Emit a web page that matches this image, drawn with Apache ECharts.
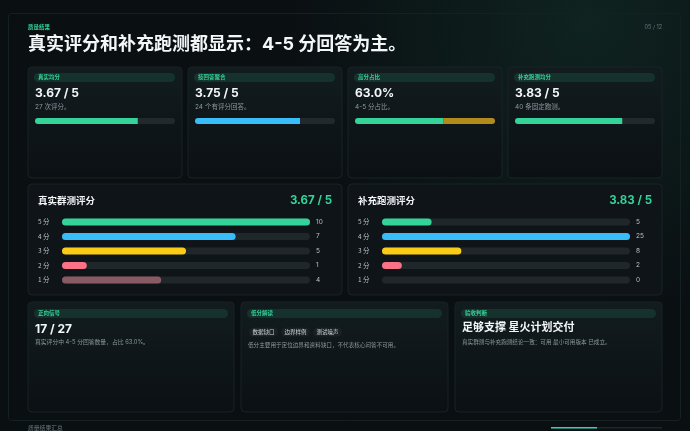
<!DOCTYPE html>
<html>
<head>
<meta charset="utf-8">
<script src="https://cdn.jsdelivr.net/npm/echarts/dist/echarts.min.js"></script>
<style>
  html, body { margin: 0; padding: 0; background: #0a0f12; }
  #chart { width: 690px; height: 431px; }
</style>
</head>
<body>
<div id="chart"></div>
<script>
// data
var kpiTags = ["真实均分", "按回答聚合", "高分占比", "补充跑测均分"];
var kpiTexts = ["3.67 / 5", "3.75 / 5", "63.0%", "3.83 / 5"];
var kpiNotes = ["27 次评分。", "24 个有评分回答。", "4-5 分占比。", "40 条固定跑测。"];
var kpiValues = [3.67, 3.75, 63.0, 3.83];
var kpiMax = [5, 5, 100, 5];
var kpiColors = ["#34d399", "#38bdf8", "#34d399", "#34d399"];

var scoreLabels = ["5 分", "4 分", "3 分", "2 分", "1 分"];
var scoreColors = ["#34d399", "#38bdf8", "#facc15", "#fb7185", "#8a5a62"];
var realCounts = [10, 7, 5, 1, 4];
var runCounts = [5, 25, 8, 2, 0];
var realAvg = "3.67 / 5";
var runAvg = "3.83 / 5";

var lowTags = ["数据缺口", "边界样例", "测试噪声"];

var FONT = "Inter, 'Noto Sans CJK SC', sans-serif";
var CJK = "'Noto Sans CJK SC', Inter, sans-serif";

function txt(s, x, y, size, color, weight, align) {
  return {
    type: "text", z: 100,
    style: {
      text: s, x: x, y: y, fill: color,
      font: (weight || "normal") + " " + size + "px " + FONT,
      align: align || "left", verticalAlign: "middle"
    }
  };
}

function card(x, y, w, h, flat) {
  return {
    type: "rect", z: 0,
    shape: { x: x, y: y, width: w, height: h, r: 4 },
    style: {
      fill: flat ? "#0e1418" : {
        type: "linear", x: 0, y: 0, x2: 0, y2: 1,
        colorStops: [{ offset: 0, color: "#121c1e" }, { offset: 1, color: "#0b1013" }]
      },
      stroke: "#192326", lineWidth: 1
    }
  };
}

function pill(x, y, w, h, color) {
  return {
    type: "rect", z: 1,
    shape: { x: x, y: y, width: w, height: h, r: h / 2 },
    style: { fill: color }
  };
}

var graphics = [];
// page background + frame
graphics.push({
  type: "rect", z: -10,
  shape: { x: 0, y: 0, width: 690, height: 431 },
  style: {
    fill: {
      type: "radial", x: 0.85, y: 0.05, r: 0.7,
      colorStops: [{ offset: 0, color: "#0f2320" }, { offset: 1, color: "#0a0f12" }]
    }
  }
});
graphics.push({
  type: "rect", z: -5,
  shape: { x: 8.5, y: 13.5, width: 672, height: 407, r: 3 },
  style: { fill: "rgba(0,0,0,0)", stroke: "#152023", lineWidth: 1 }
});

graphics.push(txt("质量结果", 28, 27, 5.5, "#34d399", "bold"));
graphics.push(txt("05 / 12", 662, 27, 5.5, "#6b757c", "normal", "right"));
graphics.push(txt("真实评分和补充跑测都显示：4-5 分回答为主。", 28, 45, 18, "#f4f7f8", "bold"));

// kpi cards
var kpiX = [28, 188, 348, 508];
for (let i = 0; i < 4; i++) {
  let x = kpiX[i];
  graphics.push(card(x, 67, 154, 111));
  graphics.push(pill(x + 6, 73, 141, 9, "rgba(52,211,153,0.13)"));
  graphics.push(txt(kpiTags[i], x + 10, 77.5, 5.5, "#34d399", "bold"));
  graphics.push(txt(kpiTexts[i], x + 7, 93, 12, "#f4f7f8", "bold"));
  graphics.push(txt(kpiNotes[i], x + 7, 107.5, 6.5, "#8d979e"));
}

// distribution panels
var panelX = [28, 348];
var panelTitles = ["真实群测评分", "补充跑测评分"];
var panelAvg = [realAvg, runAvg];
for (let i = 0; i < 2; i++) {
  let x = panelX[i];
  graphics.push(card(x, 184, 314, 111, true));
  graphics.push(txt(panelTitles[i], x + 10, 201, 9.5, "#f4f7f8", "bold"));
  graphics.push(txt(panelAvg[i], x + 304, 201, 11.5, "#34d399", "bold", "right"));
}

// bottom cards
graphics.push(card(28, 302, 206, 110));
graphics.push(pill(34, 309, 194, 9, "rgba(52,211,153,0.13)"));
graphics.push(txt("正向信号", 38, 313.5, 5.5, "#34d399", "bold"));
graphics.push(txt("17 / 27", 35, 329, 12, "#f4f7f8", "bold"));
graphics.push(txt("真实评分中 4-5 分回答数量，占比 63.0%。", 35, 342, 5.8, "#8d979e"));

graphics.push(card(241, 302, 207, 110));
graphics.push(pill(247, 309, 195, 9, "rgba(52,211,153,0.13)"));
graphics.push(txt("低分解读", 251, 313.5, 5.5, "#34d399", "bold"));
var tagX = [249, 281, 313];
for (let i = 0; i < lowTags.length; i++) {
  graphics.push(pill(tagX[i], 327.5, 29, 9, "#1a2125"));
  graphics.push(txt(lowTags[i], tagX[i] + 14.5, 332, 5.5, "#d3d9dd", "normal", "center"));
}
graphics.push(txt("低分主要用于定位边界和资料缺口，不代表核心问答不可用。", 248, 345, 5.6, "#8d979e"));

graphics.push(card(455, 302, 207, 110));
graphics.push(pill(461, 309, 195, 9, "rgba(52,211,153,0.13)"));
graphics.push(txt("验收判断", 465, 313.5, 5.5, "#34d399", "bold"));
graphics.push(txt("足够支撑 星火计划交付", 462, 328, 11, "#f4f7f8", "bold"));
graphics.push(txt("真实群测与补充跑测结论一致：可用 最小可用版本 已成立。", 462, 342, 5.6, "#8d979e"));

// footer
graphics.push(txt("质量结果汇总", 28, 428, 5.8, "#6b757c"));
graphics.push({ type: "rect", z: 1, shape: { x: 551, y: 427, width: 111, height: 1.5 }, style: { fill: "#1e2629" } });
graphics.push({ type: "rect", z: 2, shape: { x: 551, y: 427, width: 46, height: 1.5 }, style: { fill: "#2dd4bf" } });

var grids = [], xAxes = [], yAxes = [], series = [];

// kpi progress bars
for (let i = 0; i < 4; i++) {
  grids.push({ left: kpiX[i] + 7, top: 118, width: 140, height: 6 });
  xAxes.push({ type: "value", gridIndex: i, min: 0, max: kpiMax[i], show: false });
  yAxes.push({ type: "category", gridIndex: i, data: [kpiTags[i]], show: false });
  let s = {
    type: "bar", xAxisIndex: i, yAxisIndex: yAxes.length - 1, barWidth: 6,
    data: [kpiValues[i]], silent: true,
    itemStyle: { color: kpiColors[i], borderRadius: [3, 0, 0, 3] },
    showBackground: true,
    backgroundStyle: { color: "#22292d", borderRadius: 3 }
  };
  if (kpiMax[i] === 100) {
    s.stack = "share";
    series.push(s);
    series.push({
      type: "bar", xAxisIndex: i, yAxisIndex: yAxes.length - 1, barWidth: 6,
      stack: "share", silent: true,
      data: [+(100 - kpiValues[i]).toFixed(1)],
      itemStyle: { color: "#b38a1c", borderRadius: [0, 3, 3, 0] }
    });
  } else {
    series.push(s);
  }
}

// score distributions
var distData = [realCounts, runCounts];
for (let i = 0; i < 2; i++) {
  let g = grids.length;
  grids.push({ left: panelX[i] + 34, top: 214.75, width: 248, height: 72.5 });
  xAxes.push({ type: "value", gridIndex: g, min: 0, max: Math.max.apply(null, distData[i]), show: false });
  yAxes.push({
    type: "category", gridIndex: g, inverse: true, data: scoreLabels,
    axisLine: { show: false }, axisTick: { show: false },
    axisLabel: { color: "#b9c1c7", fontSize: 6.5, align: "left", margin: 24, fontFamily: CJK }
  });
  let yi = yAxes.length - 1;
  yAxes.push({
    type: "category", gridIndex: g, inverse: true, position: "right",
    data: distData[i].map(String),
    axisLine: { show: false }, axisTick: { show: false },
    axisLabel: { color: "#b9c1c7", fontSize: 6.5, align: "left", margin: 6, fontFamily: FONT }
  });
  series.push({
    type: "bar", xAxisIndex: g, yAxisIndex: yi, barWidth: 7, silent: true,
    data: distData[i].map(function (v, k) {
      return { value: v, itemStyle: { color: scoreColors[k] } };
    }),
    itemStyle: { borderRadius: 3.5 },
    showBackground: true,
    backgroundStyle: { color: "#20272b", borderRadius: 3.5 }
  });
}

var chart = echarts.init(document.getElementById("chart"), null, { renderer: "canvas" });
chart.setOption({
  backgroundColor: "#0a0f12",
  animation: false,
  textStyle: { fontFamily: FONT },
  graphic: { elements: graphics },
  grid: grids,
  xAxis: xAxes,
  yAxis: yAxes,
  series: series
});
</script>
</body>
</html>
